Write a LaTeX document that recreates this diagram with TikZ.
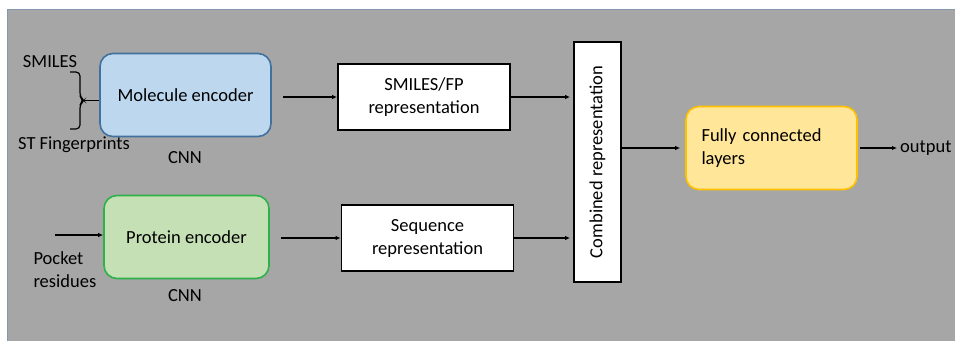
\documentclass[tikz,border=0pt]{standalone}
\usepackage{fontspec}
\setmainfont{Carlito}
\usetikzlibrary{arrows.meta}
\definecolor{bggrey}{HTML}{A6A6A6}
\definecolor{bgline}{HTML}{8497B0}
\definecolor{molfill}{HTML}{BDD7EE}
\definecolor{molline}{HTML}{41719C}
\definecolor{protfill}{HTML}{C5E0B4}
\definecolor{protline}{HTML}{2EB04A}
\definecolor{fcfill}{HTML}{FFE699}
\definecolor{fcline}{HTML}{FFC000}

\begin{document}
\begin{tikzpicture}[x=1pt,y=-1pt,
  every node/.style={font=\fontsize{18.5}{23}\selectfont},
  encbox/.style={rounded corners=13pt,line width=1.6pt,minimum width=#1,minimum height=83pt,inner sep=0pt},
  repbox/.style={draw=black,fill=white,line width=1.8pt,minimum width=172pt,minimum height=66pt,inner sep=0pt,align=center},
  arr/.style={-{Latex[length=5pt,width=4.5pt]},line width=1.3pt}]
\useasboundingbox (0,0) rectangle (955,341);
\fill[bggrey] (7,9) rectangle (955,341);
\draw[bgline,line width=0.8pt] (7,341) -- (7,9) -- (955,9);
\node[encbox=171pt,draw=molline,fill=molfill] (mol) at (185.5,95) {Molecule encoder};
\node[encbox=165pt,draw=protline,fill=protfill] (prot) at (186.5,237) {Protein encoder};
\node (smiles) at (50,62) {SMILES};
\node (stfp) at (74,145) {ST Fingerprints};
\node (cnna) at (185,158) {CNN};
\node (cnnb) at (185,296) {CNN};
\node[anchor=west,align=left] (pocket) at (30,270) {Pocket\\residues};
\node[repbox] (smfp) at (424,97) {SMILES/FP\\representation};
\node[repbox] (seq) at (427.5,238) {Sequence\\representation};
\node[draw=black,fill=white,line width=1.8pt,minimum width=47pt,minimum height=240pt,inner sep=0pt] (comb) at (597.5,162) {};
\node[rotate=90] (combtxt) at (comb) {Combined representation};
\node[encbox=171pt,draw=fcline,fill=fcfill,align=left,text width=140pt] (fc) at (771.5,148) {Fully connected\\layers};
\node[anchor=west,inner sep=0pt] (out) at (900,148) {output};
\coordinate (bra) at (70,72);
\coordinate (brb) at (70,129);
\coordinate (btip) at (84,100.5);
\coordinate (pin) at (55,235);
\draw[line width=1.2pt,rounded corners=4pt] (bra) -- ++(10,0) -- (80,97) -- (btip) -- (80,104) -- (80,129) -- (brb);
\draw[line width=1.2pt] (btip) -- (btip -| mol.west);
\draw[arr] (pin) -- (pin -| prot.west);
\draw[arr,shorten <=11pt] (mol.east |- smfp) -- (smfp.west);
\draw[arr,shorten <=11pt] (prot.east |- seq) -- (seq.west);
\draw[arr,shorten >=3pt] (smfp.east) -- (smfp.east -| comb.west);
\draw[arr,shorten >=3pt] (seq.east) -- (seq.east -| comb.west);
\draw[arr,shorten >=5pt] (fc.west -| comb.east) -- (fc.west);
\draw[arr,shorten <=2pt,shorten >=3pt] (fc.east) -- (out.west);
\end{tikzpicture}
\end{document}
